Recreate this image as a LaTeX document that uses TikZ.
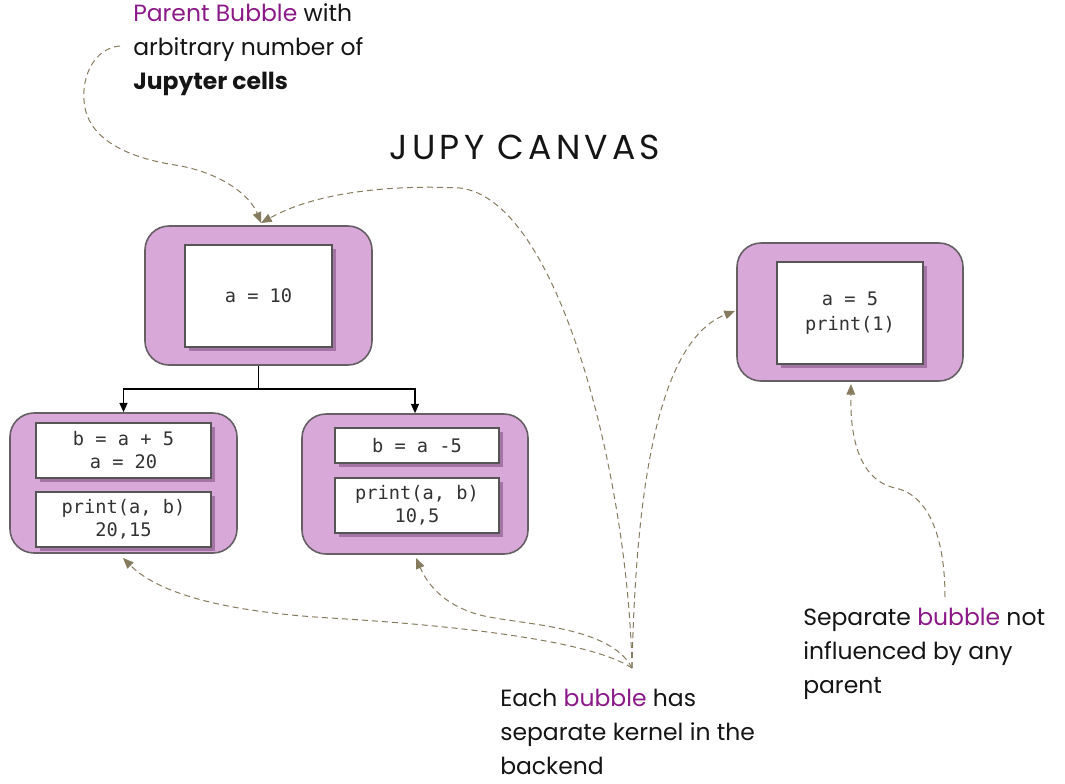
\documentclass[tikz,border=0pt]{standalone}
\usepackage{fontspec}
\setmainfont{Poppins}
\newfontfamily\codefont{DejaVu Sans Mono}
\newfontfamily\titlefont[LetterSpace=12]{Poppins}
\usetikzlibrary{arrows.meta,shadows,calc}
\definecolor{bubblefill}{HTML}{D8A8D8}
\definecolor{bubbleline}{HTML}{666066}
\definecolor{cellline}{HTML}{555555}
\definecolor{hl}{HTML}{8B1A89}
\definecolor{txt}{HTML}{151515}
\definecolor{dashcol}{HTML}{A0978A}
\definecolor{tipcol}{HTML}{857B5E}
\definecolor{shadowcol}{HTML}{7A4A7A}
\begin{document}
\begin{tikzpicture}[x=0.75pt,y=-0.75pt,
  bubble/.style={draw=bubbleline, line width=1.2pt, fill=bubblefill, rounded corners=18pt, inner sep=0pt},
  cell/.style={draw=cellline, line width=1.4pt, fill=white, inner sep=0pt, align=center,
     font=\codefont\fontsize{14}{17.25}\selectfont, text=black!80,
     drop shadow={shadow xshift=3pt, shadow yshift=-3pt, opacity=0.55, fill=shadowcol}},
  tree/.style={draw=black, line width=1.1pt, -{Triangle[length=7pt,width=6pt]}},
  note/.style={dash pattern=on 4.5pt off 3pt, draw=dashcol, line width=0.75pt,
     -{Triangle[length=8pt,width=6.5pt,fill=tipcol]}, tipcol},
  anno/.style={anchor=north west, inner sep=0pt, align=left, text=txt,
     font=\fontsize{17.6}{25.5}\selectfont},
]
\useasboundingbox (0,0) rectangle (1065,783);

% title
\node[anchor=base, inner sep=0pt, font=\titlefont\fontsize{26}{30}\selectfont, text=txt] (title) at (525,159) {JUPY CANVAS};

% bubbles
\node[bubble, minimum width=170.25pt, minimum height=104.25pt] (parent) at (258.5,295.5) {};
\node[cell, minimum width=110.25pt, minimum height=76.5pt] (pcell) at (258.5,296) {a = 10};

\node[bubble, minimum width=170.25pt, minimum height=105pt] (left) at (123.5,483) {};
\node[cell, minimum width=131.25pt, minimum height=41.25pt] (lcell1) at (123.5,450.5) {b = a + 5\\a = 20};
\node[cell, minimum width=131.25pt, minimum height=41.25pt] (lcell2) at (123.5,519.5) {print(a, b)\\20,15};

\node[bubble, minimum width=169.5pt, minimum height=105pt] (mid) at (415,484) {};
\node[cell, minimum width=123pt, minimum height=26.25pt] (mcell1) at (417,445.5) {b = a -5};
\node[cell, minimum width=123pt, minimum height=41.25pt] (mcell2) at (417,505.5) {print(a, b)\\10,5};

\node[bubble, minimum width=169.5pt, minimum height=103.5pt] (right) at (850,312) {};
\node[cell, minimum width=109.5pt, minimum height=76.5pt, font=\codefont\fontsize{14}{18.75}\selectfont] (rcell) at (850,313) {a = 5\\print(1)};

% tree connectors
\coordinate (fork) at (258.5,389);
\draw[tree] (parent.south) -- (fork) -| (left.north);
\draw[tree] (fork) -| (mid.north);

% annotations
\node[anno] (parentnote) at (133,3) {\textcolor{hl}{Parent Bubble} with\\arbitrary number of\\\textbf{Jupyter cells}};
\node[anno] (eachnote) at (500,689) {Each \textcolor{hl}{bubble} has\\separate kernel in the\\backend};
\node[anno] (sepnote) at (803,608) {Separate \textcolor{hl}{bubble} not\\influenced by any\\parent};

\coordinate (c1s) at (120,46);
\coordinate (hub) at (632,668);
\coordinate (c6s) at (945,597);
\coordinate (ptop) at (261,223);
\coordinate (lbot) at (123,558);
\coordinate (mbot) at (416,558);
\coordinate (rleft) at (735,311);
\coordinate (rbot) at (851,384);

\draw[note] (c1s) .. controls (95,48) and (82,75) .. (84,100)
   .. controls (86,140) and (130,158) .. (175,165)
   .. controls (220,172) and (250,195) .. (ptop);
\draw[note] (hub) .. controls (628,480) and (560,200) .. (460,188)
   .. controls (400,185) and (320,190) .. (ptop);
\draw[note] (hub) .. controls (636,480) and (660,340) .. (rleft);
\draw[note] (hub) .. controls (610,625) and (520,625) .. (480,615)
   .. controls (450,607) and (430,590) .. (mbot);
\draw[note] (hub) .. controls (590,640) and (450,625) .. (330,618)
   .. controls (230,612) and (160,595) .. (lbot);
\draw[note] (c6s) .. controls (945,540) and (930,495) .. (895,488)
   .. controls (860,480) and (850,440) .. (rbot);
\end{tikzpicture}
\end{document}
